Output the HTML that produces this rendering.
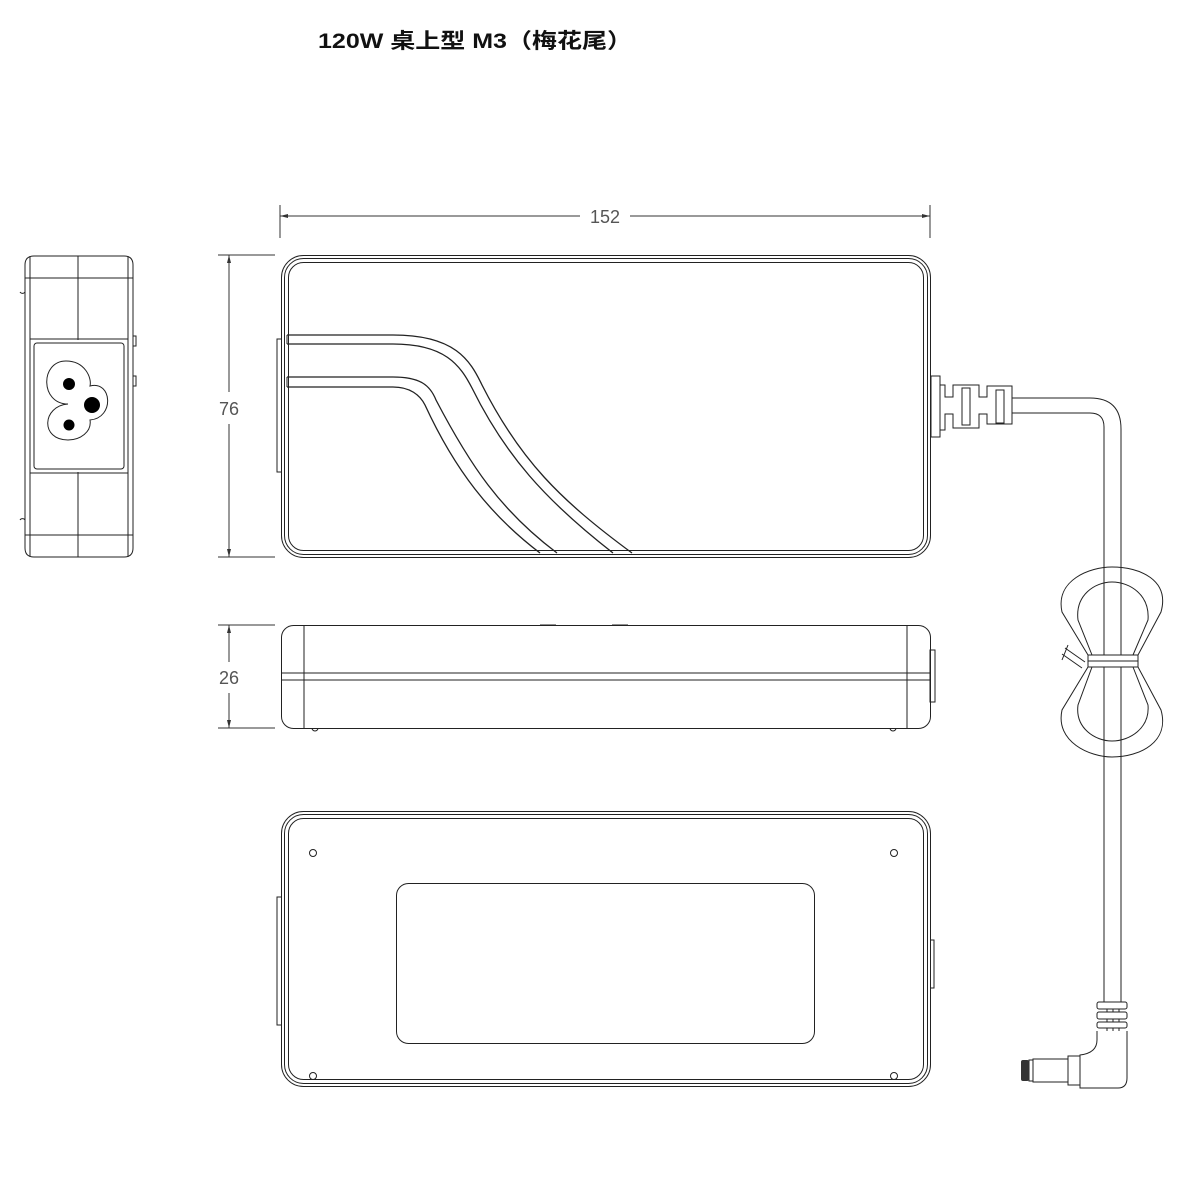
<!DOCTYPE html>
<html><head><meta charset="utf-8"><style>
html,body{margin:0;padding:0;background:#fff;width:1181px;height:1181px;overflow:hidden}
svg{display:block}
</style></head><body>
<svg width="1181" height="1181" viewBox="0 0 1181 1181" xmlns="http://www.w3.org/2000/svg">
<text x="318" y="48" font-family="Liberation Sans, Noto Sans CJK SC, sans-serif" font-size="21" font-weight="bold" fill="#111" textLength="314" lengthAdjust="spacingAndGlyphs">120W 桌上型 M3（梅花尾）</text>
<g fill="none" stroke="#333" stroke-width="1">
<line x1="280" y1="205" x2="280" y2="238"/><line x1="930" y1="205" x2="930" y2="238"/>
<line x1="280" y1="216" x2="580" y2="216"/><line x1="630" y1="216" x2="930" y2="216"/>
<line x1="218" y1="255" x2="275" y2="255"/><line x1="218" y1="557" x2="275" y2="557"/>
<line x1="229" y1="255" x2="229" y2="392"/><line x1="229" y1="424" x2="229" y2="557"/>
<line x1="218" y1="625" x2="275" y2="625"/><line x1="218" y1="728" x2="275" y2="728"/>
<line x1="229" y1="625" x2="229" y2="662"/><line x1="229" y1="693" x2="229" y2="728"/>
</g>
<g fill="#333">
<path d="M280,216 l8,-2 v4z"/><path d="M930,216 l-8,-2 v4z"/>
<path d="M229,255 l-2,8 h4z"/><path d="M229,557 l-2,-8 h4z"/>
<path d="M229,625 l-2,8 h4z"/><path d="M229,728 l-2,-8 h4z"/>
</g>
<g font-family="Liberation Sans, sans-serif" font-size="18" fill="#555" text-anchor="middle">
<text x="605" y="223">152</text><text x="229" y="415">76</text><text x="229" y="684">26</text>
</g>

<g fill="none" stroke="#222" stroke-width="1">
<path d="M25,265 Q25,256 34,256 H124 Q133,256 133,265 V548 Q133,557 124,557 H34 Q25,557 25,548 Z"/>
<line x1="30" y1="256" x2="30" y2="557"/><line x1="128" y1="256" x2="128" y2="557"/>
<line x1="25" y1="278" x2="133" y2="278"/><line x1="25" y1="535" x2="133" y2="535"/>
<line x1="78" y1="256" x2="78" y2="340"/><line x1="78" y1="472" x2="78" y2="557"/>
<rect x="30" y="339" width="98" height="134"/>
<rect x="34" y="343" width="90" height="126" rx="3"/>
<rect x="133" y="336" width="3" height="10"/><rect x="133" y="376" width="3" height="10"/>
<path d="M25,292 a3,3 0 0 1 -5,0"/><path d="M25,520 a3,3 0 0 0 -5,0"/>
<path d="M68,404 C40,404 40,361 66,361 C85,361 92,378 90,386 C112,380 115,418 90,420 C92,432 80,440 68,440 C40,440 42,406 68,404 Z"/>
</g>
<g fill="#000">
<circle cx="69" cy="384" r="6"/><circle cx="92" cy="405" r="8"/><circle cx="69" cy="425" r="5.5"/>
</g>

<g fill="none" stroke="#222" stroke-width="1">
<rect x="281.5" y="255.5" width="649" height="302" rx="22"/>
<rect x="284.5" y="258.5" width="643" height="296" rx="19"/>
<rect x="288.5" y="262.5" width="635" height="288" rx="15"/>
<path d="M281,339 h-4 v133 h4"/>
<g stroke-width="1.3">
<path d="M287,335 H393 C455,335 470,360 482,385 C520,460 560,500 632,553"/>
<path d="M287,344 H393 C445,344 460,365 472,388 C505,455 545,500 613,553"/>
<path d="M287,377 H393 C420,377 430,385 436,400 C470,465 500,510 557,553"/>
<path d="M287,387 H393 C410,387 420,395 425,405 C455,470 490,515 540,553"/>
</g>
<line x1="287" y1="335" x2="287" y2="344"/><line x1="287" y1="377" x2="287" y2="387"/>
<!-- strain relief -->
<rect x="931" y="376" width="9" height="61" fill="#fff"/>
<path d="M940,385 H945 V397 H953 V385 H979 V397 H987 V386 H1012 V424 H987 V414 H979 V428 H953 V414 H945 V430 H940 Z"/>
<rect x="962" y="388" width="8" height="37"/><rect x="996" y="390" width="8" height="33"/>
<!-- cable -->
<path d="M1012,398 H1090 Q1121,398 1121,429 V567"/>
<path d="M1012,413 H1090 Q1104,413 1104,427 V567"/>
<line x1="1104" y1="567" x2="1104" y2="1002"/><line x1="1121" y1="567" x2="1121" y2="1002"/>
<!-- figure 8 tie -->
<path d="M1088,655 L1062,612 C1055,580 1090,567 1112,567 C1140,567 1170,580 1161,612 L1138,655 Z"/>
<path d="M1092,655 L1078,620 C1075,595 1095,582 1112,582 C1130,582 1150,595 1148,620 L1133,655"/>
<path d="M1088,667 L1062,710 C1055,742 1090,757 1112,757 C1140,757 1170,742 1161,710 L1138,667 Z"/>
<path d="M1092,667 L1078,705 C1075,728 1095,741 1112,741 C1130,741 1150,728 1148,705 L1133,667"/>
<rect x="1088" y="655" width="50" height="12" fill="#fff"/>
<line x1="1088" y1="661" x2="1138" y2="661"/>
<path d="M1065,648 l20,14 M1062,654 l20,14 M1068,645 l-6,15"/>
<!-- connector -->
<rect x="1097" y="1002" width="30" height="7" rx="2"/>
<rect x="1097" y="1012" width="30" height="7" rx="2"/>
<rect x="1097" y="1022" width="30" height="6" rx="2"/>
<path d="M1107,1009v3M1113,1009v3M1119,1009v3M1107,1019v3M1113,1019v3M1119,1019v3M1107,1028v3M1113,1028v3M1119,1028v3"/>
<path d="M1097,1031 V1040 Q1097,1053 1080,1055 V1088 H1118 Q1127,1088 1127,1078 V1031"/>
<rect x="1068" y="1056" width="12" height="29"/>
<rect x="1033" y="1059" width="35" height="23"/>
<rect x="1029" y="1060" width="4" height="21"/>
</g>
<rect x="1021" y="1060" width="8" height="21" rx="2" fill="#333"/>

<g fill="none" stroke="#222" stroke-width="1">
<rect x="281.5" y="625.5" width="649" height="103" rx="12"/>
<line x1="282" y1="673" x2="930" y2="673"/><line x1="282" y1="680" x2="930" y2="680"/>
<line x1="304" y1="626" x2="304" y2="728"/><line x1="907" y1="626" x2="907" y2="728"/>
<rect x="930" y="650" width="5" height="52"/>
<path d="M540,625 h16 M612,625 h16"/>
<path d="M312,728 a3,3 0 0 0 6,0 M890,728 a3,3 0 0 0 6,0"/>
</g>

<g fill="none" stroke="#222" stroke-width="1">
<rect x="281.5" y="811.5" width="649" height="275" rx="22"/>
<rect x="284.5" y="814.5" width="643" height="269" rx="19"/>
<rect x="288.5" y="818.5" width="635" height="261" rx="15"/>
<path d="M281,897 h-4 v128 h4"/>
<path d="M930,940 h4 v48 h-4"/>
<rect x="396.5" y="883.5" width="418" height="160" rx="12"/>
<circle cx="313" cy="853" r="3.5"/><circle cx="894" cy="853" r="3.5"/>
<circle cx="313" cy="1076" r="3.5"/><circle cx="894" cy="1076" r="3.5"/>
</g>
</svg>
</body></html>
